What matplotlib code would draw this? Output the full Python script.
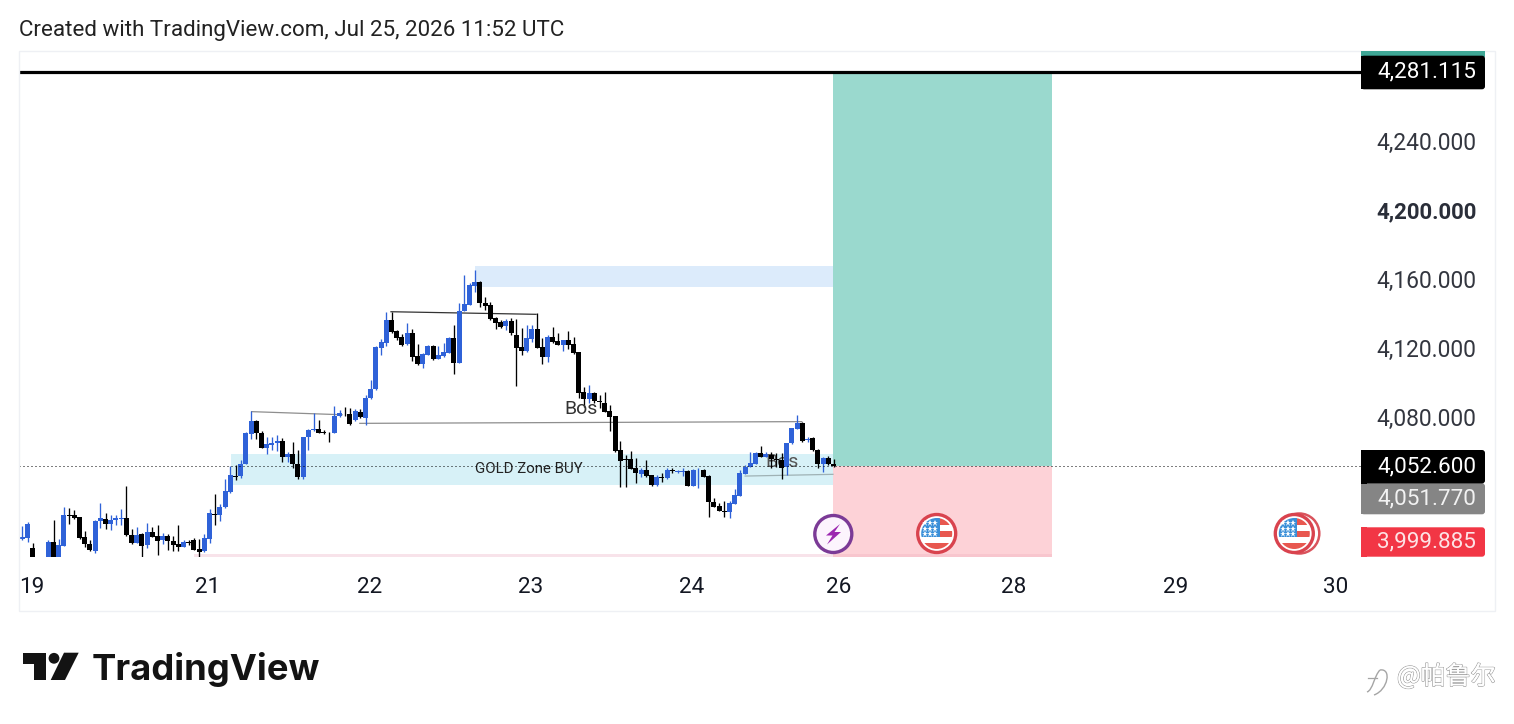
import matplotlib
matplotlib.use("Agg")
import matplotlib.pyplot as plt
from matplotlib.patches import Rectangle, Circle, Polygon, FancyBboxPatch, PathPatch
from matplotlib.path import Path
from matplotlib.transforms import ScaledTranslation
import matplotlib.patheffects as pe

# ---------- data (prices) ----------
opens = [4009.3,4009.9,4004.1,3996,3992,3996,4007.6,3997,4005.6,4023.4,4023.2,4022.3,4010.7,4006.4,4002.5,4020.2,4020.9,4018.4,4020.3,4020.9,
4021.7,4012.0,4007.4,4012.4,4005.8,4013.4,4011.1,4008.7,4011.3,4008.2,4006.4,4005.1,4007.8,4008.9,4003.5,4002.7,4009.7,4024.0,4023.4,4027.9,
4036.8,4046.1,4046.1,4053.2,4070.7,4078.0,4071.2,4062.5,4064.3,4065.0,4066.2,4057.3,4058.7,4053.0,4045.3,4068.5,4072.6,4073.2,4071.6,4071.2,
4070.8,4081.1,4082.3,4082.1,4078.6,4083.2,4079.9,4091.1,4096.3,4120.5,4123.4,4136.6,4130.4,4126.5,4122.6,4129.0,4115.5,4111.0,4116.4,4121.5,
4114.1,4115.7,4117.6,4125.9,4111.8,4141.8,4145.5,4156.5,4158.8,4146.4,4145.3,4137.5,4135.2,4132.9,4136.0,4127.9,4120.7,4118.6,4125.7,4131.2,
4120.7,4115.3,4126.5,4124.2,4122.3,4124.8,4122.4,4117.8,4094.6,4090.9,4094.0,4089.4,4088.6,4083.6,4080.7,4061.2,4055.9,4055.7,4050.5,4047.2,
4049.4,4046.5,4040.7,4045.3,4045.1,4049.4,4048.6,4048.6,4049.2,4040.5,4049.4,4049.6,4046.1,4031.0,4028.7,4025.9,4025.2,4030.0,4034.7,4047.2,
4051.3,4053.2,4059.2,4057.3,4058.5,4055.9,4055.4,4051.1,4065.0,4073.5,4077.0,4066.8,4068.1,4061.2,4053.2,4056.5,4053.2]
highs = [4017.1,4019.2,4007.0,3998,3998,4008.9,4020.5,4009.3,4027.9,4027.3,4026.3,4022.3,4014.0,4008.9,4020.5,4030.6,4024.4,4023.2,4023.6,4027.1,
4040.3,4015.1,4016.7,4012.8,4019.0,4016.3,4017.4,4012.8,4012.2,4011.3,4017.4,4008.9,4008.9,4009.9,4009.3,4012.4,4027.1,4035.6,4029.8,4044.5,
4051.9,4052.3,4055.4,4071.8,4083.8,4078.6,4072.4,4068.5,4068.9,4069.7,4068.1,4060.2,4065.6,4061.2,4068.9,4073.2,4082.5,4078.6,4072.8,4071.4,
4086.7,4084.4,4085.9,4085.4,4084.8,4084.8,4093.0,4101.7,4121.5,4125.3,4141.4,4141.4,4130.8,4128.4,4135.0,4131.2,4122.4,4117.2,4122.1,4122.1,
4121.5,4123.0,4126.5,4133.7,4146.2,4162.7,4158.2,4165.6,4159.4,4149.7,4146.8,4138.5,4136.6,4137.0,4137.5,4137.0,4131.7,4133.7,4133.7,4140.4,
4125.9,4127.9,4132.3,4128.8,4125.0,4130.2,4126.9,4118.2,4097.9,4098.8,4095.0,4093.1,4094.6,4087.3,4080.9,4066.6,4058.3,4060.8,4056.3,4050.9,
4055.4,4046.8,4046.7,4047.6,4050.5,4050.5,4049.6,4050.5,4049.6,4049.9,4050.5,4049.9,4046.5,4033.5,4030.6,4031.8,4031.8,4038.3,4049.6,4052.5,
4060.2,4059.8,4063.5,4060.2,4060.2,4059.6,4059.6,4065.4,4074.1,4081.5,4077.6,4068.9,4068.9,4061.6,4056.9,4057.7,4055.7]
lows = [4008.9,4008.0,3994,3990,3990,3994,3994,3995,4005.6,4018.2,4020.9,4009.3,4005.1,4002.7,4001.6,4015.7,4015.1,4014.5,4017.6,4017.6,
4011.3,4006.6,4007.0,3998.9,4004.1,4010.5,4000.4,4006.6,4003.3,4002.7,4002.7,4004.9,4006.0,4003.1,3999.1,4002.2,4007.0,4017.6,4020.2,4027.3,
4036.4,4043.8,4044.7,4053.2,4067.4,4067.4,4062.1,4058.7,4061.2,4060.6,4054.4,4054.0,4050.5,4044.3,4044.3,4061.2,4072.4,4070.8,4070.3,4065.6,
4070.8,4080.5,4081.1,4075.7,4078.2,4079.6,4075.6,4090.5,4095.9,4116.3,4121.5,4129.2,4125.0,4121.5,4121.9,4112.8,4110.4,4108.9,4116.3,4113.3,
4113.7,4115.3,4117.2,4105.2,4111.8,4141.8,4145.3,4153.0,4144.3,4142.4,4136.6,4131.3,4131.7,4130.8,4127.9,4098.3,4116.3,4118.2,4124.0,4120.1,
4111.0,4112.4,4123.0,4122.1,4118.8,4119.5,4116.8,4091.1,4086.3,4088.2,4088.2,4085.4,4083.0,4072.4,4060.2,4039.9,4039.9,4049.9,4041.8,4045.7,
4045.7,4040.5,4040.5,4042.8,4044.3,4048.0,4047.6,4046.3,4040.3,4040.3,4039.3,4045.3,4022.5,4027.9,4025.6,4022.5,4021.5,4029.8,4034.5,4047.0,
4051.1,4053.0,4056.9,4056.9,4050.9,4051.1,4044.1,4046.7,4064.6,4073.4,4066.0,4066.0,4060.6,4050.5,4048.6,4052.5,4051.1]
closes = [4010.9,4018.2,3996,3992,3996,4007.6,3997,4006.0,4023.2,4023.1,4021.7,4010.3,4006.8,4002.9,4020.0,4021.7,4018.4,4020.3,4021.7,4021.9,
4012.0,4007.4,4012.0,4005.6,4013.4,4010.9,4008.5,4011.3,4008.2,4006.2,4004.9,4007.6,4007.4,4003.3,4002.2,4010.1,4024.6,4023.6,4028.3,4037.4,
4046.5,4045.7,4053.2,4071.0,4078.0,4070.8,4062.5,4064.5,4065.2,4066.2,4057.3,4058.7,4053.2,4045.3,4068.5,4072.8,4073.2,4071.2,4071.2,4070.8,
4081.1,4082.5,4081.9,4076.3,4083.8,4080.1,4091.3,4096.3,4120.7,4123.6,4136.6,4129.6,4126.1,4122.1,4129.0,4115.3,4110.8,4116.8,4121.5,4113.9,
4116.1,4117.8,4126.1,4111.8,4141.8,4145.9,4156.7,4158.6,4146.2,4144.9,4137.2,4135.0,4132.7,4135.8,4129.0,4120.5,4118.8,4125.9,4131.2,4120.5,
4115.3,4126.7,4123.8,4122.3,4124.8,4122.3,4117.6,4094.4,4090.9,4094.2,4089.5,4089.0,4083.4,4080.5,4060.6,4055.0,4055.6,4050.3,4048.0,4049.6,
4046.1,4040.7,4045.3,4044.9,4049.6,4049.0,4049.0,4049.0,4040.5,4049.6,4049.7,4045.7,4031.2,4028.3,4025.9,4025.2,4030.6,4034.8,4047.6,4051.5,
4053.4,4059.2,4057.1,4058.8,4055.7,4055.6,4050.9,4065.0,4073.7,4077.0,4066.4,4067.7,4061.0,4053.2,4056.5,4052.8,4051.7]

day_labels = ["19", "21", "22", "23", "24", "26", "28", "29", "30"]
day_positions = [1.9, 35.7, 66.8, 97.8, 128.8, 156.9, 190.7, 221.7, 252.6]
price_ticks = [4080, 4120, 4160, 4200, 4240]
price_tick_labels = ["4,080.000", "4,120.000", "4,160.000", "4,200.000", "4,240.000"]

target_price = 4281.115
entry_price = 4051.77
stop_price = 3999.885
last_level = 4051.6

# ---------- figure ----------
W, H = 1514, 724
fig = plt.figure(figsize=(W / 100, H / 100), dpi=100, facecolor="white")
FONT = "Roboto"

PANE_L, PANE_R, PANE_T, PANE_B = 19, 1361, 51, 557
ax = fig.add_axes([PANE_L / W, 1 - PANE_B / H, (PANE_R - PANE_L) / W, (PANE_B - PANE_T) / H])
ax.patch.set_alpha(0)
ax.set_xlim(-0.635, 257.44)
ax.set_ylim(3999.01, 4292.77)
for s in ax.spines.values():
    s.set_visible(False)

# zones
ENTRY_I, BOX_END_I = 155.9, 198.0
ax.add_patch(Rectangle((87, 4155.8), ENTRY_I - 87, 12.2, fc="#DCEBFB", ec="none", zorder=1))
ax.add_patch(Rectangle((40.1, 4040.8), ENTRY_I - 40.1, 18.0, fc="#D7F1F7", ec="none", zorder=1))
ax.add_patch(Rectangle((33, 3999.0), ENTRY_I - 33, 1.9, fc="#F8E3EA", ec="none", zorder=1))
ax.add_patch(Rectangle((ENTRY_I, entry_price), BOX_END_I - ENTRY_I, target_price - 0.5 - entry_price,
                       fc="#9AD9CE", ec="none", zorder=2))
ax.add_patch(Rectangle((ENTRY_I, stop_price), BOX_END_I - ENTRY_I, entry_price - stop_price,
                       fc="#FDD2D7", ec="none", zorder=2))
ax.add_patch(Rectangle((ENTRY_I, 3999.0), BOX_END_I - ENTRY_I, 1.9, fc="#F8C6CE", ec="none", zorder=2))

# trend lines
ax.plot([44.1, 61.5], [4083.4, 4081.6], color="#8E8E8E", lw=0.9, zorder=2.5)
ax.plot([64.9, 149.9], [4076.6, 4077.6], color="#8E8E8E", lw=0.9, zorder=2.5)
ax.plot([70.9, 98.8], [4141.4, 4139.9], color="#333333", lw=0.9, zorder=2.5)
ax.plot([139, 155.9], [4046.0, 4047.0], color="#9FB2B5", lw=0.9, zorder=2.5)

# text under the candles
ax.text(146.2, 4054.0, "Bos", fontsize=14, family=FONT, color="#555555", ha="center", va="center", zorder=2.6)

# candles
BLUE, BLACK = "#2F62D8", "#000000"
idx = list(range(len(closes)))
colors = [BLUE if c >= o else BLACK for o, c in zip(opens, closes)]
ax.vlines(idx, lows, highs, colors=colors, lw=0.95, zorder=3)
ax.bar(idx, [abs(c - o) for o, c in zip(opens, closes)], width=0.95,
       bottom=[min(o, c) for o, c in zip(opens, closes)], color=colors, lw=0, zorder=3.1)

# labels over the candles
ax.text(107.4, 4085.0, "Bos", fontsize=14, family=FONT, color="#333333", ha="center", va="center", zorder=4)
ax.text(97.4, 4049.9, "GOLD Zone BUY", fontsize=10.8, family=FONT, color="#222222", ha="center", va="center", zorder=4)

# level lines
ax.axhline(target_price - 0.5, color="black", lw=2.3, zorder=4.5)
ax.axhline(last_level, color="black", lw=0.72, ls=(0, (1, 3)), zorder=4.5)

# axes ticks
ax.set_xticks(day_positions)
ax.set_xticklabels(day_labels, fontsize=16.2, family=FONT, color="#131722")
ax.tick_params(axis="x", length=0, pad=14.5)
ax.yaxis.tick_right()
ax.set_yticks(price_ticks)
ax.set_yticklabels(price_tick_labels, fontsize=16.4, family=FONT, color="#33363f", ha="right")
ax.tick_params(axis="y", length=0, pad=83)
nudge = ScaledTranslation(0, 1.0 / 100, fig.dpi_scale_trans)
for lab, val in zip(ax.get_yticklabels(), price_ticks):
    lab.set_transform(lab.get_transform() + nudge)
    if val == 4200:
        lab.set_weight("bold")
        lab.set_fontsize(16.0)
        lab.set_color("#2a2e39")

ov = fig.add_axes([0, 0, 1, 1], zorder=10)
ov.patch.set_alpha(0)
ov.set_xlim(0, W)
ov.set_ylim(H, 0)
ov.axis("off")

# pane frame
ov.add_patch(Rectangle((19, 51), 1476, 560, fc="none", ec="#EEF0F4", lw=1, zorder=0))


def label_box(y0, y1, color, text, tcolor):
    ov.add_patch(FancyBboxPatch((1361, y0), 124, y1 - y0, boxstyle="round,pad=0,rounding_size=3",
                                fc=color, ec="none", zorder=5))
    ov.add_patch(Rectangle((1361, y0), 6, y1 - y0, fc=color, ec="none", zorder=5))
    ov.text(1476, (y0 + y1) / 2 - 0.2, text, color=tcolor, fontsize=16.2, family=FONT, ha="right", va="center", zorder=6)


ov.add_patch(Rectangle((1361, 51), 124, 6, fc="#3FA796", ec="none", zorder=4))
label_box(55.7, 89.3, "#000000", "4,281.115", "white")
label_box(483.3, 514.3, "#858585", "4,051.770", "#F2F2F2")
label_box(450, 483.5, "#000000", "4,052.600", "white")
label_box(527.3, 556.7, "#F23645", "3,999.885", "#FDE3E5")


# icons
def flag(cx, cy, double=False):
    if double:
        ov.add_patch(Circle((cx + 5, cy), 20, fc="white", ec="#D9535C", lw=1.8, zorder=6))
    ov.add_patch(Circle((cx, cy), 19, fc="white", ec="#D9434E", lw=2.4, zorder=6.1))
    clip = Circle((cx, cy), 15.5, transform=ov.transData)
    for dy0, dy1, x0 in [(-17, -8.5, cx), (-2.7, 3.3, cx), (9.3, 17, cx - 17)]:
        r = Rectangle((x0, cy + dy0), cx + 17 - x0, dy1 - dy0, fc="#E8574F", ec="none", zorder=6.2)
        ov.add_patch(r)
        r.set_clip_path(clip)
    canton = Rectangle((cx - 17, cy - 17), 20, 20, fc="#3A8FD8", ec="none", zorder=6.3)
    ov.add_patch(canton)
    canton.set_clip_path(clip)
    for sy in (-10.6, -5, 0):
        for sx in (-11.7, -6.7, -1.7):
            ov.plot(cx + sx, cy + sy, marker="*", ms=4.5, color="white", mew=0, zorder=6.4)


ov.add_patch(Circle((833.3, 534), 18.5, fc="#FCF4FD", ec="#7B3A96", lw=2.4, zorder=6))
ov.add_patch(Polygon([(840, 524), (826, 535.5), (832.5, 535.5), (827, 544.5), (841, 532), (834.5, 532)],
                     fc="#9C27B0", ec="none", zorder=6.2))
flag(936.7, 533.5)
flag(1294.3, 533.5, double=True)

# header
ov.text(19, 30.5, "Created with TradingView.com, Jul 25, 2026 11:52 UTC", fontsize=16.1, family=FONT,
        color="#222222", ha="left", va="center")

# logo
LOGO = "#131313"
ov.add_patch(Polygon([(22.7, 652.7), (46, 652.7), (46, 680), (34, 680), (34, 664), (22.7, 664)], fc=LOGO, ec="none"))
ov.add_patch(Circle((54, 658.3), 5.4, fc=LOGO, ec="none"))
ov.add_patch(Polygon([(64, 652.7), (78.7, 652.7), (65, 680), (50.7, 680)], fc=LOGO, ec="none"))
ov.text(92, 680, "TradingView", fontsize=26.2, family="Inter", weight="bold", color=LOGO,
        ha="left", va="baseline")

# watermark
ov.text(1397, 677, "@帕鲁尔", fontsize=18, family=["Noto Sans CJK SC", "DejaVu Sans"], color="white",
        ha="left", va="center",
        path_effects=[pe.withStroke(linewidth=1.0, foreground="#9A9A9A"), pe.Normal()])
GREY = "#A5A5A5"
ov.add_patch(PathPatch(Path([(1367, 692), (1373, 690), (1374, 676), (1380, 670)],
                            [Path.MOVETO, Path.CURVE4, Path.CURVE4, Path.CURVE4]), fc="none", ec=GREY, lw=1))
ov.add_patch(PathPatch(Path([(1380, 670), (1392, 668), (1388, 690), (1374, 695)],
                            [Path.MOVETO, Path.CURVE4, Path.CURVE4, Path.CURVE4]), fc="none", ec=GREY, lw=1))
ov.plot([1368, 1377], [678, 678], color=GREY, lw=0.9)

fig.savefig("out.png", dpi=100, facecolor="white")
